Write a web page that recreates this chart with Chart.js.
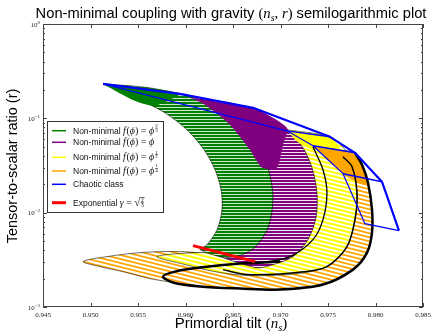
<!DOCTYPE html>
<html><head><meta charset="utf-8">
<script src="https://cdn.jsdelivr.net/npm/chart.js@4/dist/chart.umd.min.js"></script>
<style>html,body{margin:0;padding:0;background:#fff;overflow:hidden}canvas{display:block}</style>
</head><body>
<canvas id="c" width="434" height="332"></canvas>
<script>
// ---------------- data (n_s , r) ----------------
const xTicks = [0.945, 0.950, 0.955, 0.960, 0.965, 0.970, 0.975, 0.980, 0.985];
const yDecades = [0.001, 0.01, 0.1, 1];
const yDecadeExp = ['\u22123', '\u22122', '\u22121', '0'];

// green band  f = phi^(2/3)
const greenNs = [0.95132,0.95626,0.96121,0.96489,0.96732,0.96868,0.96921,0.96868,0.96700,0.96447,0.96153,0.96226,0.96332,0.96384,0.96374,0.96311,0.96195,0.96016,0.95784,0.95521,0.95132];
const greenR  = [0.2318,0.2103,0.1608,0.1037,0.0592,0.0299,0.0144,0.00694,0.00406,0.00334,0.00406,0.00458,0.00661,0.0108,0.0175,0.0285,0.0464,0.0755,0.1143,0.1569,0.2318];
const greenCapNs = [0.95132,0.95626,0.95942,0.95679,0.95447,0.95132];
const greenCapR  = [0.2318,0.2103,0.1817,0.1356,0.1569,0.2318];

// purple band  f = phi
const purpleNs = [0.96047,0.96468,0.96711,0.96942,0.97100,0.97237,0.97332,0.97384,0.97374,0.97289,0.97132,0.96889,0.96732,0.96205,0.96574,0.96732,0.96805,0.96826,0.96784,0.96679,0.96521,0.96311,0.96047];
const purpleR  = [0.1648,0.1459,0.1230,0.0964,0.0720,0.0487,0.0299,0.0163,0.00886,0.00518,0.00342,0.00275,0.00262,0.00406,0.00426,0.00544,0.00844,0.0137,0.0235,0.0411,0.0702,0.1143,0.1648];
const purpleCapNs = [0.96047,0.96711,0.97068,0.97026,0.96963,0.96805,0.96679,0.96468,0.96205,0.96047];
const purpleCapR  = [0.1648,0.1292,0.0793,0.0524,0.0299,0.0299,0.0464,0.0854,0.1389,0.1648];

// yellow band  f = phi^(1/2)
const yellowNs = [0.97068,0.97521,0.97679,0.97753,0.97805,0.97784,0.97700,0.97489,0.97174,0.96679,0.96311,0.95995,0.95700,0.96153,0.96679,0.97047,0.97237,0.97311,0.97332,0.97279,0.97184,0.97068];
const yellowR  = [0.0755,0.0637,0.0464,0.0307,0.0163,0.00844,0.00437,0.00268,0.00226,0.00215,0.00237,0.00282,0.00342,0.00377,0.00351,0.00387,0.00544,0.00886,0.0163,0.0299,0.0487,0.0755];
const yellowCapNs = [0.97068,0.97521,0.97626,0.97342,0.97163,0.97068];
const yellowCapR  = [0.0755,0.0637,0.0464,0.0464,0.0580,0.0755];

// orange band  f = phi^(1/4)
const orangeNs = [0.97342,0.97784,0.97858,0.97921,0.97963,0.97963,0.97911,0.97763,0.97447,0.96995,0.96574,0.96153,0.95868,0.95626,0.95342,0.95100,0.94921,0.95174,0.95521,0.95942,0.96468,0.96995,0.97258,0.97416,0.97489,0.97468,0.97395,0.97342];
const orangeR  = [0.0512,0.0431,0.0322,0.0208,0.0108,0.00614,0.00377,0.00249,0.00173,0.00153,0.00157,0.00165,0.00182,0.00200,0.00237,0.00268,0.00303,0.00342,0.00377,0.00387,0.00351,0.00318,0.00387,0.00585,0.0122,0.0252,0.0411,0.0512];
const orangeCapNs = [0.97342,0.97784,0.97858,0.97932,0.97753,0.97658,0.97489,0.97342];
const orangeCapR  = [0.0512,0.0431,0.0300,0.0193,0.0223,0.0259,0.0364,0.0512];

// black contour lines
const contourOuterNs = [0.97784,0.97858,0.97921,0.97963,0.97963,0.97911,0.97763,0.97447,0.96995,0.96574,0.96153,0.95868,0.95763,0.95889,0.96153,0.96574,0.96995];
const contourOuterR  = [0.0431,0.0322,0.0208,0.0108,0.00614,0.00377,0.00249,0.00173,0.00153,0.00157,0.00165,0.00182,0.00210,0.00237,0.00262,0.00289,0.00303];
const contourMidNs = [0.97658,0.97753,0.97805,0.97784,0.97700,0.97489,0.97174,0.96647,0.96395];
const contourMidR  = [0.0391,0.0307,0.0163,0.00844,0.00437,0.00268,0.00232,0.00221,0.00249];
const contourInNs = [0.97342,0.97447,0.97489,0.97447,0.97342,0.97100,0.96816];
const contourInR  = [0.0499,0.0285,0.0163,0.00844,0.00518,0.00342,0.00296];

// chaotic class (blue net)
const chaoticTopNs = [0.95132,0.95942,0.96711,0.97521,0.97784,0.98068,0.98247];
const chaoticTopR  = [0.2318,0.1817,0.1292,0.0637,0.0431,0.0213,0.00645];
const chaoticLowNs = [0.98247,0.97889,0.97658,0.97342,0.97068,0.95132];
const chaoticLowR  = [0.00645,0.00765,0.0259,0.0512,0.0737,0.2318];
const chaoticRungNs = [0.97068,0.97521,null,0.97342,0.97784,null,0.97658,0.98068];
const chaoticRungR  = [0.0737,0.0637,null,0.0512,0.0431,null,0.0259,0.0213];

// exponential gamma = sqrt(2/3)
const expNs = [0.96079, 0.96732];
const expR  = [0.00447, 0.00303];

const legendNames = ['Non-minimal', 'Non-minimal', 'Non-minimal', 'Non-minimal', 'Chaotic class', 'Exponential'];
const legendExps  = [['2','3'], null, ['1','2'], ['1','4'], null, null];

// ---------------- helpers ----------------
const pts = (a, b) => a.map((x, i) => ({x: x, y: b[i]}));
function hatch(color, period, lw, slope) {
  const w = slope ? Math.round(period / slope) : 8;
  const c = document.createElement('canvas');
  c.width = w; c.height = period;
  const g = c.getContext('2d');
  g.fillStyle = '#fff'; g.fillRect(0, 0, w, period);
  g.strokeStyle = color; g.lineWidth = lw;
  for (const k of [-1, 0, 1]) {
    g.beginPath();
    g.moveTo(0, k * period + lw / 2);
    g.lineTo(w, k * period + lw / 2 + slope * w);
    g.stroke();
  }
  return g.createPattern(c, 'repeat');
}
const band = (ns, r, fill, order, extra) => Object.assign({
  data: pts(ns, r), hatchFill: fill, borderColor: 'rgba(0,0,0,0.8)', borderWidth: 0.7,
  tension: 0.3, pointRadius: 0, fill: false, order: order
}, extra || {});
const lineDs = (ns, r, color, w, order, tension) => ({
  data: pts(ns, r), borderColor: color, borderWidth: w, tension: tension || 0,
  pointRadius: 0, fill: false, order: order, borderJoinStyle: 'round', spanGaps: false
});

const SANS = '"Liberation Sans", Arial, sans-serif';
const SERIF = '"Liberation Serif", "DejaVu Serif", serif';

function drawParts(ctx, parts, x, y, align) {
  let total = 0;
  for (const p of parts) {
    ctx.font = p.font;
    if (p.frac) p.w = Math.max(ctx.measureText(p.frac[0]).width, ctx.measureText(p.frac[1]).width) + 1;
    else p.w = ctx.measureText(p.t).width;
    total += p.w + (p.gap || 0);
  }
  let cx = align === 'center' ? x - total / 2 : x;
  ctx.textAlign = 'left'; ctx.textBaseline = 'alphabetic';
  for (const p of parts) {
    ctx.font = p.font;
    if (p.frac) {
      ctx.textAlign = 'center';
      ctx.fillText(p.frac[0], cx + p.w / 2, y + p.nY);
      ctx.fillText(p.frac[1], cx + p.w / 2, y + p.dY);
      ctx.fillRect(cx + 0.3, y + p.bY, p.w - 0.6, 0.6);
      if (p.over !== undefined) ctx.fillRect(cx - 1, y + p.over, p.w + 1.5, 0.6);
      ctx.textAlign = 'left';
    } else {
      ctx.fillText(p.t, cx, y + (p.dy || 0));
    }
    cx += p.w + (p.gap || 0);
  }
}

const deco = {
  id: 'deco',
  beforeDatasetDraw(chart, args) {
    const ds = chart.data.datasets[args.index];
    if (!ds.hatchFill) return;
    const ctx = chart.ctx, a = chart.chartArea;
    ctx.save();
    ctx.beginPath(); ctx.rect(a.left, a.top, a.right - a.left, a.bottom - a.top); ctx.clip();
    ctx.beginPath(); args.meta.dataset.path(ctx); ctx.closePath();
    ctx.fillStyle = ds.hatchFill; ctx.fill();
    ctx.restore();
  },
  afterDraw(chart) {
    const ctx = chart.ctx, a = chart.chartArea, xs = chart.scales.x, ys = chart.scales.y;
    ctx.save();
    // frame
    ctx.strokeStyle = '#444'; ctx.lineWidth = 1;
    ctx.strokeRect(a.left + 0.5, a.top + 0.5, a.right - a.left - 1, a.bottom - a.top - 1);
    ctx.beginPath();
    for (const v of xTicks) {
      const px = Math.round(xs.getPixelForValue(v)) + 0.5;
      ctx.moveTo(px, a.bottom); ctx.lineTo(px, a.bottom - 4);
      ctx.moveTo(px, a.top); ctx.lineTo(px, a.top + 4);
    }
    for (let i = 0; i < yDecades.length; i++) {
      const d = yDecades[i];
      const py = Math.round(ys.getPixelForValue(d)) + 0.5;
      ctx.moveTo(a.left, py); ctx.lineTo(a.left + 4, py);
      ctx.moveTo(a.right, py); ctx.lineTo(a.right - 4, py);
      if (i < yDecades.length - 1) {
        for (let m = 2; m <= 9; m++) {
          const q = Math.round(ys.getPixelForValue(d * m)) + 0.5;
          ctx.moveTo(a.left, q); ctx.lineTo(a.left + 2, q);
          ctx.moveTo(a.right, q); ctx.lineTo(a.right - 2, q);
        }
      }
    }
    ctx.stroke();
    // tick labels
    ctx.fillStyle = '#222';
    ctx.font = '7px ' + SERIF; ctx.textAlign = 'center'; ctx.textBaseline = 'alphabetic';
    for (const v of xTicks) ctx.fillText(v.toFixed(3), xs.getPixelForValue(v), 316.5);
    for (let i = 0; i < yDecades.length; i++) {
      const py = ys.getPixelForValue(yDecades[i]);
      ctx.font = '5px ' + SERIF;
      const ew = ctx.measureText(yDecadeExp[i]).width;
      ctx.textAlign = 'right';
      ctx.fillText(yDecadeExp[i], 40, py - 0.5);
      ctx.font = '7px ' + SERIF;
      ctx.fillText('10', 40 - ew, py + 2.5);
    }
    // title
    ctx.fillStyle = '#000';
    drawParts(ctx, [
      {t: 'Non-minimal coupling with gravity ', font: '14.7px ' + SANS},
      {t: '(', font: '14.7px ' + SERIF},
      {t: 'n', font: 'italic 14.7px ' + SERIF},
      {t: 's', font: 'italic 10px ' + SERIF, dy: 3},
      {t: ', ', font: '14.7px ' + SERIF},
      {t: 'r', font: 'italic 14.7px ' + SERIF},
      {t: ')', font: '14.7px ' + SERIF},
      {t: ' semilogarithmic plot', font: '14.7px ' + SANS}
    ], 231, 18, 'center');
    // x title
    drawParts(ctx, [
      {t: 'Primordial tilt ', font: '15px ' + SANS},
      {t: '(', font: '15px ' + SERIF},
      {t: 'n', font: 'italic 15px ' + SERIF},
      {t: 's', font: 'italic 10.5px ' + SERIF, dy: 3},
      {t: ')', font: '15px ' + SERIF}
    ], 231, 328, 'center');
    // y title
    ctx.save();
    ctx.translate(17, 166); ctx.rotate(-Math.PI / 2);
    ctx.font = '14.5px ' + SANS; ctx.textAlign = 'center'; ctx.textBaseline = 'alphabetic';
    ctx.fillText('Tensor-to-scalar ratio (r)', 0, 0);
    ctx.restore();
    // legend
    const lx = 47.5, ly = 121.5, lw = 116, lh = 91;
    ctx.fillStyle = '#fff'; ctx.fillRect(lx, ly, lw, lh);
    ctx.strokeStyle = '#333'; ctx.lineWidth = 1; ctx.strokeRect(lx, ly, lw, lh);
    const rows = [130.7, 142.3, 157.3, 171, 184.3, 202.7];
    const cols = ['#008000', '#800080', '#ffff00', '#ffa500', '#0000ff', '#ff0000'];
    for (let i = 0; i < rows.length; i++) {
      const y = rows[i];
      ctx.strokeStyle = cols[i]; ctx.lineWidth = i === 5 ? 3 : 1.5;
      ctx.beginPath(); ctx.moveTo(52, y); ctx.lineTo(66, y); ctx.stroke();
      ctx.fillStyle = '#111';
      const base = y + 3;
      const parts = [{t: legendNames[i] + (i < 4 || i === 5 ? ' ' : ''), font: '8.5px ' + SANS}];
      if (i < 4) {
        parts.push({t: 'f', font: 'italic 10px ' + SERIF, gap: 0.6});
        parts.push({t: '(', font: '10px ' + SERIF});
        parts.push({t: '\u03d5', font: 'italic 10px ' + SERIF});
        parts.push({t: ') = ', font: '10px ' + SERIF});
        parts.push({t: '\u03d5', font: 'italic 10px ' + SERIF, gap: 0.6});
        if (legendExps[i]) parts.push({frac: legendExps[i], font: '5px ' + SERIF, nY: -6.6, dY: -2, bY: -5.9});
      } else if (i === 5) {
        parts.push({t: '\u03b3', font: 'italic 10px ' + SERIF});
        parts.push({t: ' = ', font: '10px ' + SERIF});
        parts.push({t: '\u221a', font: '11px ' + SERIF, gap: 0});
        parts.push({frac: ['2', '3'], font: '5.5px ' + SERIF, nY: -4, dY: 1.7, bY: -3.2, over: -8.6});
      }
      drawParts(ctx, parts, 73, base, 'left');
    }
    ctx.restore();
  }
};

const hatchOrange = hatch('#ffa500', 4, 1.8, 0.25);
const hatchYellow = hatch('#ffff00', 4, 2.0, 0.25);
const hatchPurple = hatch('#800080', 3, 2.1, 0);
const hatchGreen  = hatch('#008000', 3, 2.2, 0);

new Chart(document.getElementById('c'), {
  type: 'line',
  data: {
    datasets: [
      band(orangeNs, orangeR, hatchOrange, 100),
      band(yellowNs, yellowR, hatchYellow, 95),
      band(purpleNs, purpleR, hatchPurple, 90),
      band(greenNs, greenR, hatchGreen, 85),
      band(yellowCapNs, yellowCapR, '#ffff00', 80, {borderWidth: 0, tension: 0.2}),
      band(orangeCapNs, orangeCapR, '#ffa500', 79, {borderWidth: 0, tension: 0.2}),
      band(purpleCapNs, purpleCapR, '#800080', 78, {borderWidth: 0, tension: 0.2}),
      band(greenCapNs, greenCapR, '#008000', 77, {borderWidth: 0, tension: 0.2}),
      lineDs(contourOuterNs, contourOuterR, '#000', 2.5, 60, 0.3),
      lineDs(contourMidNs, contourMidR, '#000', 1.5, 59, 0.3),
      lineDs(contourInNs, contourInR, '#000', 1.3, 58, 0.3),
      lineDs(expNs, expR, '#ff0000', 3, 30, 0),
      lineDs(chaoticLowNs, chaoticLowR, '#0000ff', 1.2, 12, 0),
      lineDs(chaoticRungNs, chaoticRungR, '#0000ff', 1.5, 11, 0),
      lineDs(chaoticTopNs, chaoticTopR, '#0000ff', 2.2, 10, 0)
    ]
  },
  options: {
    responsive: false, animation: false, devicePixelRatio: 1,
    layout: {padding: {left: 43, right: 11, top: 24, bottom: 25}},
    scales: {
      x: {type: 'linear', min: 0.945, max: 0.985, display: false},
      y: {type: 'logarithmic', min: 0.001, max: 1, display: false}
    },
    plugins: {legend: {display: false}, tooltip: {enabled: false}, title: {display: false}}
  },
  plugins: [deco]
});
</script>
</body></html>
